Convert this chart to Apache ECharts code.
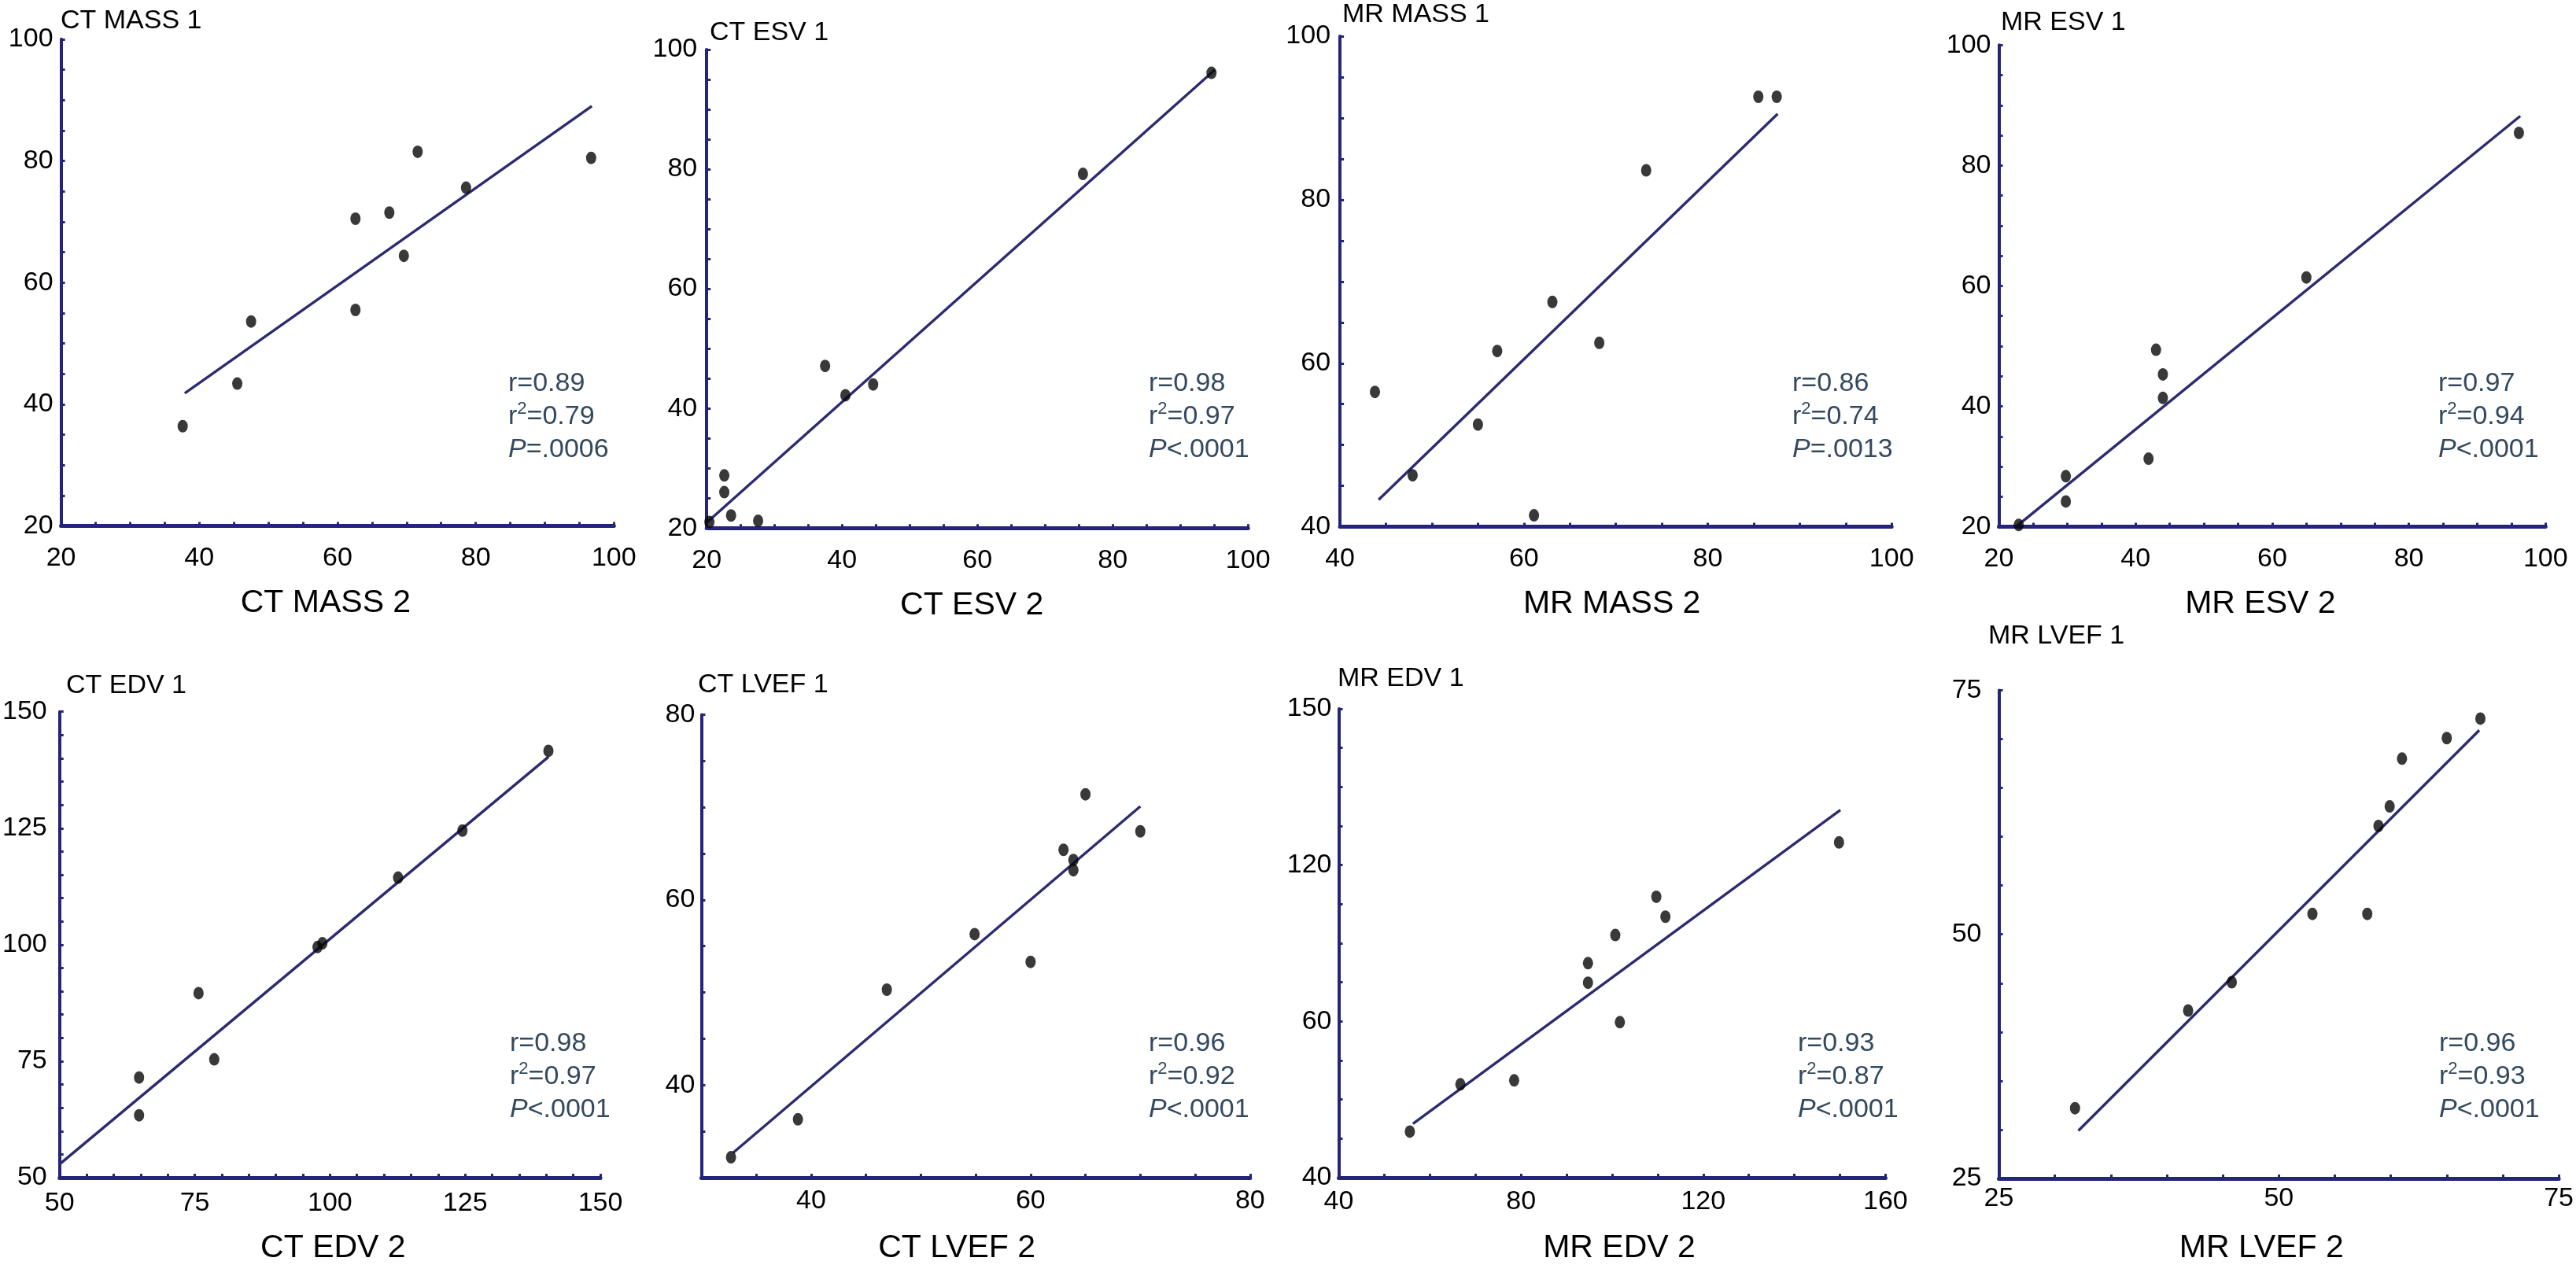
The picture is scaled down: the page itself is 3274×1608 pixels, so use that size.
<!DOCTYPE html>
<html><head><meta charset="utf-8">
<script src="https://cdn.jsdelivr.net/npm/echarts@6/dist/echarts.min.js"></script>
<style>html,body{margin:0;padding:0;background:#fff}#c{width:3274px;height:1608px}</style>
</head><body><div id="c"></div>
<script>
// ---------------- DATA ----------------
// Panel 1: CT MASS
const ctMass2 = [37.6, 45.5, 47.5, 62.6, 62.6, 67.5, 69.6, 71.6, 78.6, 96.7];
const ctMass1 = [36.4, 43.4, 53.6, 70.5, 55.5, 71.5, 64.4, 81.5, 75.6, 80.5];
const ctMassFitX = [37.9, 96.8];
const ctMassFitY = [41.8, 89.0];
const ctMassTicks = [20, 40, 60, 80, 100];

// Panel 2: CT ESV
const ctEsv2 = [20.4, 22.6, 22.6, 23.6, 27.6, 37.5, 40.5, 44.6, 75.6, 94.6];
const ctEsv1 = [21.0, 28.8, 26.0, 22.1, 21.2, 47.1, 42.2, 44.0, 79.2, 96.1];
const ctEsvFitX = [20.1, 95.1];
const ctEsvFitY = [21.0, 96.6];
const ctEsvTicks = [20, 40, 60, 80, 100];

// Panel 3: MR MASS
const mrMass2 = [43.8, 47.9, 55.0, 57.1, 61.1, 63.1, 68.2, 73.3, 85.5, 87.5];
const mrMass1 = [56.5, 46.3, 52.5, 61.5, 41.4, 67.5, 62.5, 83.6, 92.6, 92.6];
const mrMassFitX = [44.2, 87.6];
const mrMassFitY = [43.3, 90.5];
const mrMassTicks = [40, 60, 80, 100];

// Panel 4: MR ESV
const mrEsv2 = [22.9, 29.8, 29.8, 41.9, 43.0, 44.0, 44.0, 65.0, 96.1];
const mrEsv1 = [20.3, 28.4, 24.2, 31.3, 49.4, 45.3, 41.4, 61.4, 85.4];
const mrEsvFitX = [22.5, 96.3];
const mrEsvFitY = [20.0, 88.2];
const mrEsvTicks = [20, 40, 60, 80, 100];

// Panel 5: CT EDV
const ctEdv2 = [64.7, 64.7, 75.7, 78.6, 97.7, 98.6, 112.6, 124.5, 140.4];
const ctEdv1 = [71.5, 63.4, 89.6, 75.4, 99.5, 100.3, 114.4, 124.5, 141.6];
const ctEdvFitX = [50.0, 140.4];
const ctEdvFitY = [52.9, 140.3];
const ctEdvTicks = [50, 75, 100, 125, 150];

// Panel 6: CT LVEF
const ctLvef2 = [32.7, 38.8, 46.9, 54.9, 60.0, 63.0, 63.9, 63.9, 65.0, 70.0];
const ctLvef1 = [32.2, 36.3, 50.3, 56.3, 53.3, 65.4, 64.3, 63.2, 71.4, 67.4];
const ctLvefFitX = [32.9, 70.0];
const ctLvefFitY = [32.7, 70.1];
const ctLvefTicks = [40, 60, 80];

// Panel 7: MR EDV (y read on the plot's linear scale; printed tick labels differ)
const mrEdv2 = [55.6, 66.7, 78.5, 94.7, 94.7, 100.7, 101.7, 109.7, 111.7, 149.8];
const mrEdv1 = [51.8, 63.9, 64.9, 94.9, 89.9, 102.1, 79.8, 111.9, 106.8, 125.8];
const mrEdvFitX = [56.3, 150.1];
const mrEdvFitY = [53.8, 134.1];
const mrEdvXTicks = [40, 80, 120, 160];
const mrEdvYTicks = [40, 80, 120, 160];
const mrEdvYTickText = ['40', '60', '120', '150'];

// Panel 8: MR LVEF
const mrLvef2 = [31.8, 41.9, 45.8, 53.0, 57.9, 58.9, 59.9, 61.0, 65.0, 68.0];
const mrLvef1 = [32.2, 42.2, 45.1, 52.1, 52.1, 61.1, 63.1, 68.0, 70.1, 72.1];
const mrLvefFitX = [32.1, 67.9];
const mrLvefFitY = [29.9, 70.9];
const mrLvefTicks = [25, 50, 75];

// Names and statistics
const xNames = ['CT MASS 2', 'CT ESV 2', 'MR MASS 2', 'MR ESV 2', 'CT EDV 2', 'CT LVEF 2', 'MR EDV 2', 'MR LVEF 2'];
const yNames = ['CT MASS 1', 'CT ESV 1', 'MR MASS 1', 'MR ESV 1', 'CT EDV 1', 'CT LVEF 1', 'MR EDV 1', 'MR LVEF 1'];
const rValues = ['0.89', '0.98', '0.86', '0.97', '0.98', '0.96', '0.93', '0.96'];
const r2Values = ['0.79', '0.97', '0.74', '0.94', '0.97', '0.92', '0.87', '0.93'];
const pValues = ['=.0006', '<.0001', '=.0013', '<.0001', '<.0001', '<.0001', '<.0001', '<.0001'];

// ---------------- LAYOUT / STYLE ----------------
const FONT = "'Liberation Sans', Arial, Helvetica, sans-serif";
const AXIS_COLOR = '#24247a';
const FIT_COLOR = '#2d2b70';
const STAT_COLOR = '#34495e';

const panels = [
  {xs: ctMass2, ys: ctMass1, fx: ctMassFitX, fy: ctMassFitY, xMin: 20, xMax: 100, xStep: 5, yMin: 20, yMax: 100, yStep: 5,
   xT: ctMassTicks, yT: ctMassTicks, yTT: null,
   grid: [77.6, 49.8, 702.7, 618.8], title: [77, 10], stat: [646, 467], xm: 24, ym: 10, ysh: 2, ng: 78, nsh: 15},
  {xs: ctEsv2, ys: ctEsv1, fx: ctEsvFitX, fy: ctEsvFitY, xMin: 20, xMax: 100, xStep: 5, yMin: 20, yMax: 100, yStep: 5,
   xT: ctEsvTicks, yT: ctEsvTicks, yTT: null,
   grid: [898.2, 62.9, 688, 608.3], title: [902, 25], stat: [1460, 467], xm: 24, ym: 12, ysh: 3, ng: 78, nsh: 7},
  {xs: mrMass2, ys: mrMass1, fx: mrMassFitX, fy: mrMassFitY, xMin: 40, xMax: 100, xStep: 5, yMin: 40, yMax: 100, yStep: 5,
   xT: mrMassTicks, yT: mrMassTicks, yTT: null,
   grid: [1703.1, 46.1, 701.1, 623.5], title: [1706, 2], stat: [2278, 467], xm: 24, ym: 12, ysh: 3, ng: 78, nsh: 5},
  {xs: mrEsv2, ys: mrEsv1, fx: mrEsvFitX, fy: mrEsvFitY, xMin: 20, xMax: 100, xStep: 5, yMin: 20, yMax: 100, yStep: 5,
   xT: mrEsvTicks, yT: mrEsvTicks, yTT: null,
   grid: [2540.5, 57.2, 694.8, 612.4], title: [2543, 12], stat: [3099, 467], xm: 24, ym: 10, ysh: 3, ng: 78, nsh: 15},
  {xs: ctEdv2, ys: ctEdv1, fx: ctEdvFitX, fy: ctEdvFitY, xMin: 50, xMax: 150, xStep: 5, yMin: 50, yMax: 150, yStep: 5,
   xT: ctEdvTicks, yT: ctEdvTicks, yTT: null,
   grid: [73.4, 904.7, 689.6, 608.3], title: [84, 855], stat: [648, 1306], xm: 16, ym: 16, ysh: -11, ng: 69, nsh: -4},
  {xs: ctLvef2, ys: ctLvef1, fx: ctLvefFitX, fy: ctLvefFitY, xMin: 30, xMax: 80, xStep: 5, yMin: 30, yMax: 80, yStep: 5,
   xT: ctLvefTicks, yT: ctLvefTicks, yTT: null,
   grid: [891.4, 908.4, 697.4, 607.2], title: [887, 854], stat: [1460, 1306], xm: 13, ym: 8, ysh: -9, ng: 69, nsh: 24},
  {xs: mrEdv2, ys: mrEdv1, fx: mrEdvFitX, fy: mrEdvFitY, xMin: 40, xMax: 160, xStep: 10, yMin: 40, yMax: 160, yStep: 10,
   xT: mrEdvXTicks, yT: mrEdvYTicks, yTT: mrEdvYTickText,
   grid: [1701.5, 901, 694.9, 613.5], title: [1700, 846], stat: [2285, 1306], xm: 14, ym: 9, ysh: -8, ng: 69, nsh: -9},
  {xs: mrLvef2, ys: mrLvef1, fx: mrLvefFitX, fy: mrLvefFitY, xMin: 25, xMax: 75, xStep: 5, yMin: 25, yMax: 75, yStep: 5,
   xT: mrLvefTicks, yT: mrLvefTicks, yTT: null,
   grid: [2540.5, 877.4, 721.1, 629.3], title: [2527, 792], stat: [3100, 1306], xm: 9, ym: 22, ysh: -12, ng: 68, nsh: 22}
];

function labelFmt(ticks, texts) {
  return function (v) {
    const i = ticks.indexOf(Math.round(v * 1000) / 1000);
    if (i < 0) return '';
    return texts ? texts[i] : String(ticks[i]);
  };
}

const grids = [], xAxes = [], yAxes = [], series = [], titles = [];
panels.forEach((p, i) => {
  grids.push({left: p.grid[0], top: p.grid[1], width: p.grid[2], height: p.grid[3], containLabel: false});
  const tickCommon = {show: true, inside: true, length: 5, lineStyle: {color: AXIS_COLOR, width: 3}};
  xAxes.push({
    type: 'value', gridIndex: i, min: p.xMin, max: p.xMax, interval: p.xStep,
    axisLine: {show: true, onZero: false, lineStyle: {color: AXIS_COLOR, width: 5}},
    axisTick: tickCommon, splitLine: {show: false},
    axisLabel: {formatter: labelFmt(p.xT, null), color: '#000', fontSize: 34, fontFamily: FONT, margin: p.xm},
    name: xNames[i], nameLocation: 'middle', nameGap: p.ng,
    nameTextStyle: {color: '#000', fontSize: 41, fontFamily: FONT,
      padding: p.nsh >= 0 ? [0, 2 * p.nsh, 0, 0] : [0, 0, 0, -2 * p.nsh]}
  });
  yAxes.push({
    type: 'value', gridIndex: i, min: p.yMin, max: p.yMax, interval: p.yStep,
    axisLine: {show: true, onZero: false, lineStyle: {color: AXIS_COLOR, width: 4}},
    axisTick: tickCommon, splitLine: {show: false},
    axisLabel: {formatter: labelFmt(p.yT, p.yTT), color: '#000', fontSize: 34, fontFamily: FONT, margin: p.ym,
      padding: p.ysh >= 0 ? [2 * p.ysh, 0, 0, 0] : [0, 0, -2 * p.ysh, 0]}
  });
  series.push({
    type: 'line', xAxisIndex: i, yAxisIndex: i, silent: true, showSymbol: false, symbol: 'none', z: 2,
    data: [[p.fx[0], p.fy[0]], [p.fx[1], p.fy[1]]],
    lineStyle: {color: FIT_COLOR, width: 3.4}
  });
  series.push({
    type: 'scatter', xAxisIndex: i, yAxisIndex: i, silent: true, z: 3,
    symbol: 'circle', symbolSize: [13, 16],
    itemStyle: {color: '#070707'},
    data: p.xs.map((x, k) => [x, p.ys[k]])
  });
  titles.push({
    text: yNames[i], left: p.title[0], top: p.title[1], padding: 0,
    textStyle: {color: '#000', fontSize: 34, lineHeight: 34, fontWeight: 'normal', fontFamily: FONT}
  });
  titles.push({
    text: 'r=' + rValues[i] + '\nr{sup|2}=' + r2Values[i] + '\n{it|P}' + pValues[i],
    left: p.stat[0], top: p.stat[1], padding: 0,
    textStyle: {
      color: STAT_COLOR, fontSize: 34, lineHeight: 42, fontWeight: 'normal', fontFamily: FONT,
      rich: {
        sup: {color: STAT_COLOR, fontSize: 22, lineHeight: 42, verticalAlign: 'top', fontFamily: FONT},
        it: {color: STAT_COLOR, fontSize: 34, lineHeight: 42, fontStyle: 'italic', fontFamily: FONT}
      }
    }
  });
});

const chart = echarts.init(document.getElementById('c'), null, {renderer: 'canvas'});
chart.setOption({
  animation: false,
  backgroundColor: '#ffffff',
  title: titles,
  grid: grids,
  xAxis: xAxes,
  yAxis: yAxes,
  series: series
});
</script>
</body></html>
